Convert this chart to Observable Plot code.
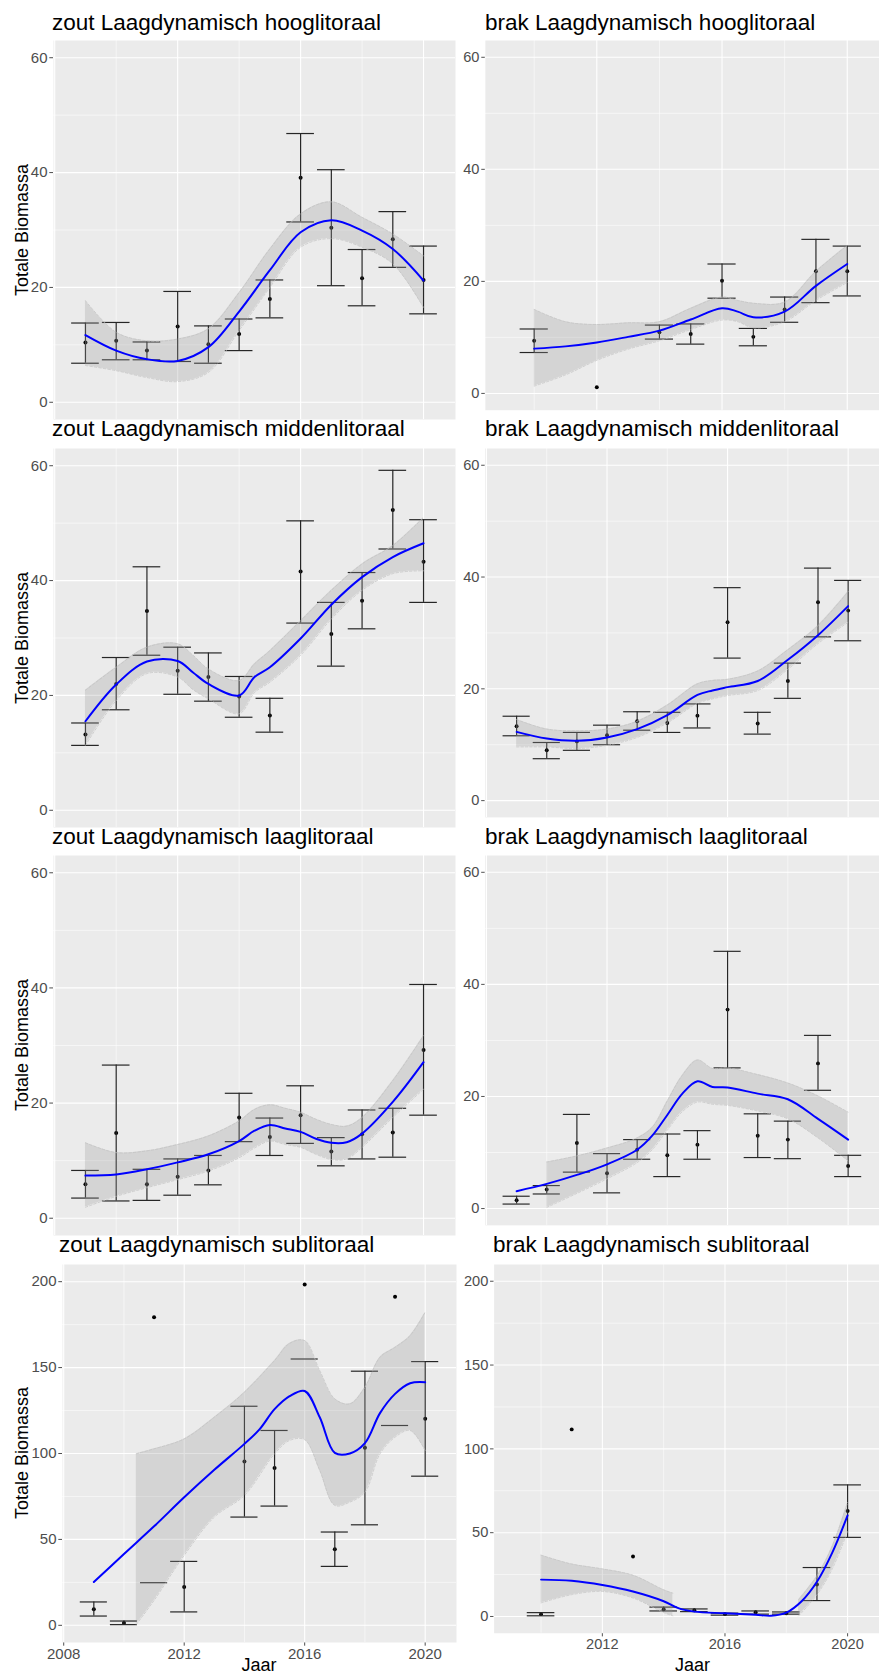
<!DOCTYPE html>
<html><head><meta charset="utf-8">
<script src="https://cdn.jsdelivr.net/npm/d3@7"></script>
<script src="https://cdn.jsdelivr.net/npm/@observablehq/plot@0.6"></script>
<style>
html,body{margin:0;padding:0;background:#fff;overflow:hidden;}
#page{position:relative;width:879px;height:1678px;overflow:hidden;font-family:"Liberation Sans",Arial,Helvetica,sans-serif;background:#fff;}
.panel{position:absolute;}
.title{position:absolute;font-size:22.5px;line-height:22.5px;color:#000;white-space:nowrap;}
.ylab{position:absolute;font-size:18px;line-height:18px;color:#000;white-space:nowrap;transform:translate(-50%,-50%) rotate(-90deg);}
.xlab{position:absolute;font-size:18px;line-height:18px;color:#000;white-space:nowrap;transform:translateX(-50%);}
</style></head>
<body><div id="page"></div>
<script>
// ---------- axis ticks ----------
const yearTicks = [2008, 2012, 2016, 2020];
const yearMinor = [2010, 2014, 2018];
const litTicks = [0, 20, 40, 60];
const litMinor = [10, 30, 50];
const subTicks = [0, 50, 100, 150, 200];
const subMinor = [25, 75, 125, 175];
const yTitle = "Totale Biomassa";
const xTitle = "Jaar";

// ---------- zout Laagdynamisch hooglitoraal ----------
const zoutHoogYears = [2009, 2010, 2011, 2012, 2013, 2014, 2015, 2016, 2017, 2018, 2019, 2020];
const zoutHoogMean  = [10.4, 10.7, 9.0, 13.2, 10.1, 11.9, 18.0, 39.1, 30.4, 21.6, 28.4, 21.3];
const zoutHoogLow   = [6.8, 7.4, 7.4, 7.1, 6.8, 9.0, 14.7, 31.4, 20.3, 16.8, 23.5, 15.4];
const zoutHoogHigh  = [13.8, 13.9, 10.5, 19.3, 13.3, 14.5, 21.3, 46.8, 40.5, 26.6, 33.2, 27.2];
const zoutHoogFitX  = [2009, 2010, 2011, 2012, 2013, 2014, 2015, 2016, 2017, 2018, 2019, 2020];
const zoutHoogFit   = [11.7, 9.0, 7.5, 7.2, 9.6, 15.8, 23.0, 29.6, 31.7, 29.9, 26.7, 21.2];
const zoutHoogBandLow  = [6.4, 5.5, 4.3, 3.6, 5.2, 12.5, 20.0, 27.0, 28.5, 27.0, 24.1, 16.5];
const zoutHoogBandHigh = [17.7, 12.2, 10.7, 11.0, 12.8, 19.1, 26.7, 32.8, 34.9, 32.2, 29.3, 25.5];

// ---------- brak Laagdynamisch hooglitoraal ----------
const brakHoogYears = [2010, 2012, 2014, 2015, 2016, 2017, 2018, 2019, 2020];
const brakHoogMean  = [9.4, 1.1, 10.9, 10.6, 20.1, 10.1, 15.0, 21.8, 21.8];
const brakHoogLow   = [7.3, null, 9.7, 8.8, 17.0, 8.5, 12.7, 16.2, 17.4];
const brakHoogHigh  = [11.5, null, 12.2, 12.4, 23.1, 11.6, 17.2, 27.5, 26.3];
const brakHoogFitX  = [2010, 2011, 2012, 2013, 2014, 2015, 2016, 2016.5, 2017, 2018, 2019, 2020];
const brakHoogFit   = [8.0, 8.4, 9.1, 10.1, 11.2, 13.2, 15.2, 14.6, 13.6, 14.6, 19.2, 23.1];
const brakHoogBandLow  = [1.3, 3.3, 5.9, 7.9, 9.4, 11.4, 13.1, 12.8, 11.7, 12.8, 16.6, 19.8];
const brakHoogBandHigh = [15.0, 12.8, 12.3, 12.6, 12.8, 15.2, 17.2, 16.6, 16.1, 16.3, 21.8, 26.4];

// ---------- zout Laagdynamisch middenlitoraal ----------
const zoutMidYears = [2009, 2010, 2011, 2012, 2013, 2014, 2015, 2016, 2017, 2018, 2019, 2020];
const zoutMidMean  = [13.2, 22.0, 34.7, 24.3, 23.2, 19.8, 16.5, 41.6, 30.7, 36.5, 52.3, 43.3];
const zoutMidLow   = [11.3, 17.5, 27.0, 20.2, 19.0, 16.2, 13.6, 32.6, 25.1, 31.6, 45.5, 36.2];
const zoutMidHigh  = [15.2, 26.6, 42.4, 28.4, 27.4, 23.3, 19.5, 50.4, 36.2, 41.4, 59.2, 50.6];
const zoutMidFitX  = [2009, 2010, 2011, 2012, 2012.5, 2013, 2014, 2014.5, 2015, 2016, 2017, 2018, 2019, 2020];
const zoutMidFit   = [15.5, 21.9, 25.9, 26.0, 24.0, 22.0, 20.0, 23.2, 24.9, 29.9, 35.8, 40.6, 44.1, 46.5];
const zoutMidBandLow  = [11.3, 19.1, 23.8, 23.2, 21.0, 19.4, 16.8, 20.5, 22.3, 27.0, 33.3, 38.3, 41.2, 41.7];
const zoutMidBandHigh = [20.9, 24.9, 28.4, 29.0, 27.0, 24.6, 22.6, 25.5, 27.8, 33.0, 38.3, 42.9, 46.1, 51.0];

// ---------- brak Laagdynamisch middenlitoraal ----------
const brakMidYears = [2009, 2010, 2011, 2012, 2013, 2014, 2015, 2016, 2017, 2018, 2019, 2020];
const brakMidMean  = [13.3, 9.0, 10.6, 11.7, 14.2, 13.9, 15.2, 31.9, 13.8, 21.4, 35.5, 34.0];
const brakMidLow   = [11.6, 7.5, 9.0, 10.0, 12.6, 12.2, 13.0, 25.5, 11.9, 18.3, 29.3, 28.6];
const brakMidHigh  = [15.1, 10.4, 12.2, 13.5, 15.9, 15.8, 17.3, 38.1, 15.8, 24.6, 41.6, 39.4];
const brakMidFitX  = [2009, 2010, 2011, 2012, 2013, 2014, 2015, 2015.5, 2016, 2017, 2018, 2019, 2020];
const brakMidFit   = [12.3, 11.1, 10.7, 11.3, 12.8, 15.3, 18.9, 19.7, 20.3, 21.4, 25.2, 29.6, 34.8];
const brakMidBandLow  = [9.6, 9.6, 9.3, 9.9, 11.3, 13.9, 17.4, 18.2, 18.8, 19.7, 23.5, 28.1, 31.9];
const brakMidBandHigh = [14.5, 12.8, 12.5, 12.8, 14.2, 17.1, 20.9, 21.5, 21.7, 23.2, 27.0, 31.3, 37.4];

// ---------- zout Laagdynamisch laaglitoraal ----------
const zoutLaagYears = [2009, 2010, 2011, 2012, 2013, 2014, 2015, 2016, 2017, 2018, 2019, 2020];
const zoutLaagMean  = [5.9, 14.8, 5.9, 7.2, 8.3, 17.5, 14.1, 17.9, 11.6, 14.6, 14.9, 29.2];
const zoutLaagLow   = [3.5, 3.0, 3.1, 4.0, 5.8, 13.3, 10.9, 13.0, 9.1, 10.3, 10.6, 17.9];
const zoutLaagHigh  = [8.3, 26.6, 8.5, 10.3, 10.9, 21.7, 17.4, 23.0, 14.0, 18.8, 19.1, 40.6];
const zoutLaagFitX  = [2009, 2010, 2011, 2012, 2013, 2014, 2014.5, 2015, 2015.5, 2016, 2016.5, 2017, 2017.5, 2018, 2019, 2020];
const zoutLaagFit   = [7.4, 7.6, 8.5, 9.7, 11.1, 13.4, 15.2, 16.2, 15.6, 15.0, 13.8, 13.1, 13.2, 14.7, 20.2, 27.1];
const zoutLaagBandLow  = [1.9, 3.8, 5.3, 6.7, 8.2, 10.5, 12.2, 13.4, 12.8, 12.3, 11.1, 10.2, 10.3, 12.3, 17.5, 22.4];
const zoutLaagBandHigh = [13.1, 11.4, 11.7, 12.8, 14.3, 16.9, 18.9, 19.7, 19.1, 18.4, 17.2, 16.3, 16.0, 17.5, 23.9, 31.7];

// ---------- brak Laagdynamisch laaglitoraal ----------
const brakLaagYears = [2009, 2010, 2011, 2012, 2013, 2014, 2015, 2016, 2017, 2018, 2019, 2020];
const brakLaagMean  = [1.5, 3.4, 11.7, 6.3, 10.5, 9.5, 11.4, 35.5, 13.0, 12.3, 25.9, 7.6];
const brakLaagLow   = [0.8, 2.6, 6.5, 2.8, 8.8, 5.7, 8.8, 25.1, 9.1, 8.9, 21.1, 5.7];
const brakLaagHigh  = [2.2, 4.1, 16.8, 9.8, 12.3, 13.3, 13.9, 45.9, 16.9, 15.6, 30.9, 9.5];
const brakLaagFitX  = [2009, 2010, 2011, 2012, 2013, 2013.5, 2014, 2014.5, 2015, 2015.5, 2016, 2017, 2018, 2019, 2020];
const brakLaagFit   = [3.1, 4.4, 6.0, 7.9, 10.5, 13.0, 16.7, 20.5, 22.7, 21.7, 21.6, 20.5, 19.5, 16.0, 12.3];
const brakLaagBandX = [2010, 2011, 2012, 2013, 2013.5, 2014, 2014.5, 2015, 2015.5, 2016, 2017, 2018, 2019, 2020];
const brakLaagBandLow  = [0.2, 2.7, 5.3, 8.2, 10.5, 14.0, 17.3, 19.0, 18.6, 18.4, 17.4, 16.0, 12.6, 8.5];
const brakLaagBandHigh = [8.3, 9.4, 10.8, 12.6, 14.5, 19.2, 23.8, 26.5, 25.0, 25.1, 23.9, 22.4, 20.1, 17.2];

// ---------- zout Laagdynamisch sublitoraal ----------
const zoutSubYears = [2009, 2010, 2011, 2012, 2014, 2015, 2016, 2017, 2018, 2019, 2020];
const zoutSubMean  = [9.3, 1.4, 179.3, 22.3, 95.3, 91.5, 198.3, 44.2, 103.3, 191.3, 120.2];
const zoutSubLow   = [5.4, 0.4, 24.8, 7.8, 63.0, 69.4, 155.0, 34.3, 58.5, 116.3, 86.8];
const zoutSubHigh  = [13.6, 2.5, null, 37.2, 127.5, 113.4, null, 54.3, 147.9, null, 153.5];
const zoutSubFitX  = [2009, 2010, 2011, 2012, 2013, 2014, 2014.5, 2015, 2015.5, 2016, 2016.5, 2017, 2017.5, 2018, 2018.5, 2019, 2019.5, 2020];
const zoutSubFit   = [25.2, 41.5, 57.6, 74.5, 90.5, 105.6, 114.0, 125.8, 133.4, 136.4, 121.1, 100.4, 100.0, 106.0, 123.5, 134.7, 140.9, 141.5];
const zoutSubBandX = [2010.41, 2011, 2012, 2013, 2014, 2015, 2015.5, 2016, 2016.5, 2017, 2017.5, 2018, 2018.5, 2019, 2019.5, 2020];
const zoutSubBandLow  = [0.5, 14.5, 40.7, 63.0, 75.6, 99.8, 107.6, 108.0, 90.1, 69.8, 71.7, 77.5, 99.8, 109.5, 113.4, 101.7];
const zoutSubBandHigh = [99.8, 102.7, 108.5, 121.1, 135.7, 154.1, 164.1, 165.7, 148.3, 131.8, 128.9, 138.6, 156.0, 161.8, 168.6, 182.2];

// ---------- brak Laagdynamisch sublitoraal ----------
const brakSubYears = [2010, 2011, 2013, 2014, 2015, 2016, 2017, 2018, 2019, 2020];
const brakSubMean  = [1.4, 111.6, 35.8, 4.3, 3.7, 1.4, 2.5, 1.9, 19.1, 62.9];
const brakSubLow   = [0.4, null, null, 3.3, 2.9, 0.8, 1.4, 1.4, 9.5, 47.2];
const brakSubHigh  = [2.3, null, null, 5.6, 4.5, 2.0, 3.3, 2.7, 29.2, 78.5];
const brakSubFitX  = [2010, 2011, 2012, 2013, 2014, 2014.5, 2015, 2016, 2017, 2017.5, 2018, 2018.5, 2019, 2019.5, 2020];
const brakSubFit   = [22.0, 21.3, 18.8, 14.9, 9.1, 4.8, 2.9, 1.9, 1.0, 0.4, 2.3, 9.1, 20.7, 38.1, 60.3];
const brakSubBandX = [2010, 2011, 2012, 2013, 2014, 2014.3, 2016, 2018.4, 2019, 2019.5, 2020];
const brakSubBandLow  = [8.1, 13.0, 14.9, 11.0, 2.3, 0.4, null, 0.3, 13.0, 28.4, 50.7];
const brakSubBandHigh = [36.6, 31.3, 28.4, 24.6, 15.9, 13.9, null, 10.0, 24.2, 42.0, 68.0];

// ---------- layout ----------
const FONT = '"Liberation Sans", Arial, Helvetica, sans-serif';
const CAP = 0.45;
const panels = [
  {title: "zout Laagdynamisch hooglitoraal", years: zoutHoogYears, mean: zoutHoogMean, low: zoutHoogLow, high: zoutHoogHigh,
   fitX: zoutHoogFitX, fit: zoutHoogFit, bandX: zoutHoogFitX, bandLow: zoutHoogBandLow, bandHigh: zoutHoogBandHigh,
   left: 0, ml: 53, w: 402, top: 40, h: 379, xd: [2007.96, 2021.04], yd: [-3, 63], yt: litTicks, ym: litMinor, showX: false, ylab: true, tx: 52, tb: 31},
  {title: "brak Laagdynamisch hooglitoraal", years: brakHoogYears, mean: brakHoogMean, low: brakHoogLow, high: brakHoogHigh,
   fitX: brakHoogFitX, fit: brakHoogFit, bandX: brakHoogFitX, bandLow: brakHoogBandLow, bandHigh: brakHoogBandHigh,
   left: 440, ml: 46, w: 404, top: 40, h: 379, xd: [2008.44, 2021.03], yd: [-3, 63], yt: litTicks, ym: litMinor, showX: false, ylab: false, tx: 485, tb: 31},
  {title: "zout Laagdynamisch middenlitoraal", years: zoutMidYears, mean: zoutMidMean, low: zoutMidLow, high: zoutMidHigh,
   fitX: zoutMidFitX, fit: zoutMidFit, bandX: zoutMidFitX, bandLow: zoutMidBandLow, bandHigh: zoutMidBandHigh,
   left: 0, ml: 53, w: 402, top: 448, h: 379, xd: [2007.96, 2021.04], yd: [-3, 63], yt: litTicks, ym: litMinor, showX: false, ylab: true, tx: 52, tb: 437},
  {title: "brak Laagdynamisch middenlitoraal", years: brakMidYears, mean: brakMidMean, low: brakMidLow, high: brakMidHigh,
   fitX: brakMidFitX, fit: brakMidFit, bandX: brakMidFitX, bandLow: brakMidBandLow, bandHigh: brakMidBandHigh,
   left: 440, ml: 46, w: 405, top: 448, h: 379, xd: [2007.96, 2021.04], yd: [-3, 63], yt: litTicks, ym: litMinor, showX: false, ylab: false, tx: 485, tb: 437},
  {title: "zout Laagdynamisch laaglitoraal", years: zoutLaagYears, mean: zoutLaagMean, low: zoutLaagLow, high: zoutLaagHigh,
   fitX: zoutLaagFitX, fit: zoutLaagFit, bandX: zoutLaagFitX, bandLow: zoutLaagBandLow, bandHigh: zoutLaagBandHigh,
   left: 0, ml: 53, w: 402, top: 855, h: 380, xd: [2007.96, 2021.04], yd: [-3, 63], yt: litTicks, ym: litMinor, showX: false, ylab: true, tx: 52, tb: 845},
  {title: "brak Laagdynamisch laaglitoraal", years: brakLaagYears, mean: brakLaagMean, low: brakLaagLow, high: brakLaagHigh,
   fitX: brakLaagFitX, fit: brakLaagFit, bandX: brakLaagBandX, bandLow: brakLaagBandLow, bandHigh: brakLaagBandHigh,
   left: 440, ml: 46, w: 405, top: 855, h: 380, xd: [2007.96, 2021.04], yd: [-3, 63], yt: litTicks, ym: litMinor, showX: false, ylab: false, tx: 485, tb: 845},
  {title: "zout Laagdynamisch sublitoraal", years: zoutSubYears, mean: zoutSubMean, low: zoutSubLow, high: zoutSubHigh,
   fitX: zoutSubFitX, fit: zoutSubFit, bandX: zoutSubBandX, bandLow: zoutSubBandLow, bandHigh: zoutSubBandHigh,
   left: 0, ml: 62, w: 394, top: 1264, h: 378, xd: [2007.96, 2021.04], yd: [-10, 210], yt: subTicks, ym: subMinor, showX: true, ylab: true, tx: 59, tb: 1253},
  {title: "brak Laagdynamisch sublitoraal", years: brakSubYears, mean: brakSubMean, low: brakSubLow, high: brakSubHigh,
   fitX: brakSubFitX, fit: brakSubFit, bandX: brakSubBandX, bandLow: brakSubBandLow, bandHigh: brakSubBandHigh,
   left: 440, ml: 55, w: 395, top: 1264, h: 378, xd: [2008.47, 2021.04], yd: [-10, 210], yt: subTicks, ym: subMinor, showX: true, ylab: false, tx: 493, tb: 1253}
];

const page = document.getElementById("page");

function addDiv(cls, text, css) {
  const d = document.createElement("div");
  d.className = cls;
  d.textContent = text;
  Object.assign(d.style, css);
  page.appendChild(d);
}

for (const p of panels) {
  const pts = p.years.map((x, i) => ({x, m: p.mean[i], lo: p.low[i], hi: p.high[i]}));
  const fit = p.fitX.map((x, i) => ({x, y: p.fit[i]}));
  const band = p.bandX.map((x, i) => ({x, lo: p.bandLow[i] == null ? NaN : p.bandLow[i], hi: p.bandHigh[i] == null ? NaN : p.bandHigh[i]}));
  const inX = t => t >= p.xd[0] && t <= p.xd[1];
  const mb = p.showX ? 36 : 0;
  const bars = pts.filter(d => d.lo != null && d.hi != null);
  const lowCaps = pts.filter(d => d.lo != null);
  const highCaps = pts.filter(d => d.hi != null);
  const svg = Plot.plot({
    width: p.ml + p.w,
    height: p.h + mb,
    marginLeft: p.ml, marginRight: 0, marginTop: 0, marginBottom: mb,
    style: {fontFamily: FONT, fontSize: "15px", color: "#4D4D4D", background: "transparent", overflow: "visible"},
    x: {domain: p.xd, ticks: yearTicks.filter(inX), tickFormat: d => String(d), tickSize: 3.7, tickPadding: 2, label: null, axis: p.showX ? "bottom" : null},
    y: {domain: p.yd, ticks: p.yt, tickSize: 3.7, tickPadding: 2.3, label: null, axis: "left"},
    marks: [
      Plot.frame({fill: "#EBEBEB", stroke: "none"}),
      Plot.ruleY(p.ym, {stroke: "#ffffff", strokeWidth: 0.55}),
      Plot.ruleX(yearMinor.filter(inX), {stroke: "#ffffff", strokeWidth: 0.55}),
      Plot.ruleY(p.yt, {stroke: "#ffffff", strokeWidth: 1.1}),
      Plot.ruleX(yearTicks.filter(inX), {stroke: "#ffffff", strokeWidth: 1.1}),
      Plot.dot(pts, {x: "x", y: "m", r: 2, fill: "#000000"}),
      Plot.ruleX(bars, {x: "x", y1: "lo", y2: "hi", stroke: "#262626", strokeWidth: 1.2}),
      Plot.ruleY(lowCaps, {y: "lo", x1: d => d.x - CAP, x2: d => d.x + CAP, stroke: "#262626", strokeWidth: 1.2}),
      Plot.ruleY(highCaps, {y: "hi", x1: d => d.x - CAP, x2: d => d.x + CAP, stroke: "#262626", strokeWidth: 1.2}),
      Plot.areaY(band, {x: "x", y1: "lo", y2: "hi", fill: "#999999", fillOpacity: 0.28, curve: "catmull-rom"}),
      Plot.line(band, {x: "x", y: "lo", stroke: "#c2c2c2", strokeWidth: 0.7, strokeDasharray: "2.5,2", curve: "catmull-rom"}),
      Plot.line(band, {x: "x", y: "hi", stroke: "#c2c2c2", strokeWidth: 0.7, strokeDasharray: "2.5,2", curve: "catmull-rom"}),
      Plot.line(fit, {x: "x", y: "y", stroke: "#0000FF", strokeWidth: 2, curve: "catmull-rom"})
    ]
  });
  const wrap = document.createElement("div");
  wrap.className = "panel";
  wrap.style.left = p.left + "px";
  wrap.style.top = p.top + "px";
  wrap.appendChild(svg);
  page.appendChild(wrap);

  addDiv("title", p.title, {left: p.tx + "px", top: (p.tb - 19) + "px"});
  if (p.ylab) addDiv("ylab", yTitle, {left: "21.5px", top: (p.top + p.h / 2) + "px"});
  if (p.showX) addDiv("xlab", xTitle, {left: (p.left + p.ml + p.w / 2) + "px", top: "1656px"});
}
</script>
</body></html>
